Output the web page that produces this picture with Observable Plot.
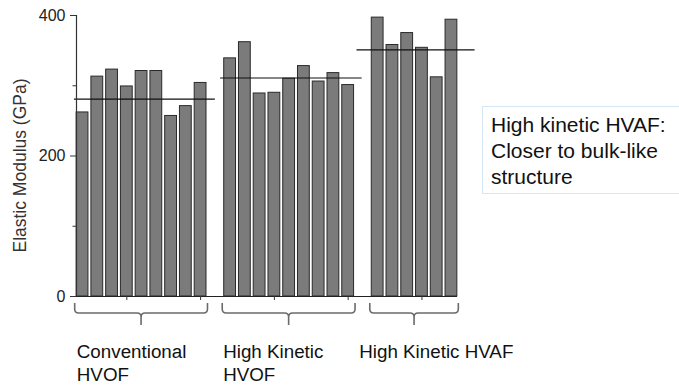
<!DOCTYPE html>
<html>
<head>
<meta charset="utf-8">
<script src="https://cdn.jsdelivr.net/npm/d3@7"></script>
<script src="https://cdn.jsdelivr.net/npm/@observablehq/plot@0.6"></script>
<style>
  html, body { margin: 0; padding: 0; background: #fff; }
  #wrap { position: relative; width: 679px; height: 385px; overflow: hidden; font-family: "Liberation Sans", Arial, sans-serif; }
  #note { position: absolute; left: 482px; top: 106px; width: 210px; height: 88px; box-sizing: border-box;
          border: 1px solid #d5e6f6; padding: 5px 0 0 8px; font-size: 21px; line-height: 25.8px; color: #111; }
</style>
</head>
<body>
<div id="wrap"></div>
<script>
// ---- data ----
const groupNames = ["Conventional\nHVOF", "High Kinetic\nHVOF", "High Kinetic HVAF"];
const conventionalHVOF = [262, 313, 323, 299, 321, 321, 257, 271, 304];
const highKineticHVOF = [339, 362, 289, 290, 310, 328, 306, 318, 301];
const highKineticHVAF = [397, 358, 375, 354, 312, 394];
const groupLevels = [281, 311, 351];
const levelFrom = [0.45, 10.35, 19.6];
const levelTo = [10.0, 19.95, 27.6];
const yTickLabels = [0, 200, 400];
const yMinorTicks = [100, 300];
const xTicks = [4, 9, 14, 19, 24];
const yLabel = "Elastic Modulus (GPa)";
const noteText = "High kinetic HVAF:<br>Closer to bulk-like<br>structure";

// ---- build table ----
const series = [conventionalHVOF, highKineticHVOF, highKineticHVAF];
const labelShift = [0.11, 0.03, -0.75]; // label start relative to brace start (x units)
const bars = [];
const groups = [];
let slot = 1;
series.forEach((vals, g) => {
  const first = slot;
  vals.forEach(v => { bars.push({group: g, slot, value: v}); slot++; });
  groups.push({name: groupNames[g], first, last: slot - 1, level: groupLevels[g], from: levelFrom[g], to: levelTo[g], shift: labelShift[g]});
  slot++; // empty slot between groups
});

function braces(index, scales) {
  const g = d3.create("svg:g").attr("fill", "none").attr("stroke", "#6b6b6b").attr("stroke-width", 1.6);
  const yb = scales.y(0);
  for (const grp of groups) {
    const x0 = scales.x(grp.first - 0.5), x1 = scales.x(grp.last + 0.5), xc = (x0 + x1) / 2;
    const yt = yb + 7, ym = yb + 17, yk = yb + 29, r = 4;
    const p = d3.path();
    p.moveTo(x0, yt); p.lineTo(x0, ym - r); p.quadraticCurveTo(x0, ym, x0 + r, ym);
    p.lineTo(xc - r, ym); p.quadraticCurveTo(xc, ym, xc, ym + r); p.lineTo(xc, yk);
    p.moveTo(xc, ym + r); p.quadraticCurveTo(xc, ym, xc + r, ym);
    p.lineTo(x1 - r, ym); p.quadraticCurveTo(x1, ym, x1, ym - r); p.lineTo(x1, yt);
    g.append("path").attr("d", p.toString());
  }
  return g.node();
}

const chart = Plot.plot({
  width: 679,
  height: 385,
  marginLeft: 76,
  marginRight: 222,
  marginTop: 15,
  marginBottom: 89,
  style: {fontFamily: '"Liberation Sans", Arial, sans-serif', background: "transparent", overflow: "visible"},
  x: {type: "linear", domain: [0.59, 26.41], axis: null},
  y: {domain: [0, 400], axis: null},
  marks: [
    Plot.rectY(bars, {x1: d => d.slot - 0.4, x2: d => d.slot + 0.4, y: "value", fill: "#7b7b7b", stroke: "#2a2a2a", strokeWidth: 1}),
    Plot.ruleY(groups, {y: "level", x1: "from", x2: "to", stroke: "#111", strokeWidth: 1.2}),
    Plot.ruleX([0.59], {stroke: "#333", strokeWidth: 1.2}),
    Plot.ruleY([0], {stroke: "#222", strokeWidth: 1.2}),
    Plot.axisY({ticks: yTickLabels, tickSize: 6, tickPadding: 5, stroke: "#333", fontSize: 16, color: "#222", tickFormat: d => String(d)}),
    Plot.axisY({ticks: yMinorTicks, tickSize: 3.5, stroke: "#333", tickFormat: () => ""}),
    Plot.axisX({ticks: xTicks, tickSize: 4, stroke: "#333", tickFormat: () => ""}),
    braces,
    Plot.text(groups, {x: d => d.first - 0.5 + d.shift, text: "name", frameAnchor: "bottom", textAnchor: "start", lineAnchor: "top",
      dy: 44.5, fontSize: 18.8, lineHeight: 1.245, fill: "#111"}),
    Plot.text([yLabel], {frameAnchor: "left", rotate: -90, dx: -56, dy: 9.5, fontSize: 17.5, fill: "#333",
      textAnchor: "middle", lineAnchor: "middle"})
  ]
});
document.getElementById("wrap").appendChild(chart);
const note = document.createElement("div");
note.id = "note";
note.innerHTML = noteText;
document.getElementById("wrap").appendChild(note);
</script>
</body>
</html>
